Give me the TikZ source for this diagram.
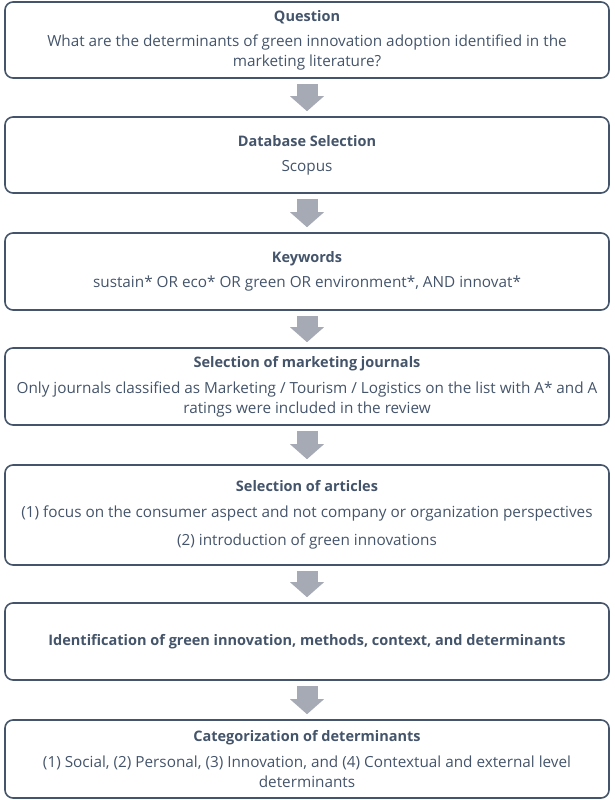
\documentclass[tikz,border=0pt]{standalone}
\usepackage{fontspec}
\setmainfont{Open Sans}
\usetikzlibrary{arrows.meta}
\definecolor{boxline}{RGB}{68,84,106}
\definecolor{arrowgray}{RGB}{166,170,180}
\newcommand{\boxtitle}[1]{{\fontsize{14.5}{20}\selectfont\textbf{#1}}}
\begin{document}
\begin{tikzpicture}[x=1pt, y=-1pt,
    box/.style={draw=boxline, line width=1.6pt, rounded corners=8pt, text=boxline,
        minimum width=604pt, minimum height=76pt, align=center, inner sep=0pt,
        font=\fontsize{15.3}{20}\selectfont},
    flow/.style={draw=arrowgray, line width=21pt, shorten <=5pt, shorten >=5pt,
        -{Triangle[length=15pt, width=34pt, line width=0pt]}}]
\useasboundingbox (0,0) rectangle (614,800);

\node[box] (quest) at (307,40) {\boxtitle{Question}\\[5pt]
    What are the determinants of green innovation adoption identified in the\\
    marketing literature?};
\node[box] (dbase) at (307,155) {\boxtitle{Database Selection}\\[5pt] Scopus};
\node[box, minimum height=77pt] (keyw) at (307,271.5) {\boxtitle{Keywords}\\[5pt]
    sustain* OR eco* OR green OR environment*, AND innovat*};
\node[box, minimum height=77pt] (journ) at (307,386.5) {\boxtitle{Selection of marketing journals}\\[6pt]
    Only journals classified as Marketing / Tourism / Logistics on the list with A* and A\\
    ratings were included in the review};
\node[box, minimum height=100pt] (artic) at (307,515) {\boxtitle{Selection of articles}\\[6pt]
    (1) focus on the consumer aspect and not company or organization perspectives\\[8pt]
    (2) introduction of green innovations};
\node[box, minimum height=77pt] (ident) at (307,641.5)
    {\boxtitle{Identification of green innovation, methods, context, and determinants}};
\node[box, minimum height=78pt] (categ) at (307,759) {\boxtitle{Categorization of determinants}\\[6pt]
    (1) Social, (2) Personal, (3) Innovation, and (4) Contextual and external level\\
    determinants};

\draw[flow] (quest) -- (dbase);
\draw[flow] (dbase) -- (keyw);
\draw[flow] (keyw) -- (journ);
\draw[flow] (journ) -- (artic);
\draw[flow] (artic) -- (ident);
\draw[flow] (ident) -- (categ);

\end{tikzpicture}
\end{document}
